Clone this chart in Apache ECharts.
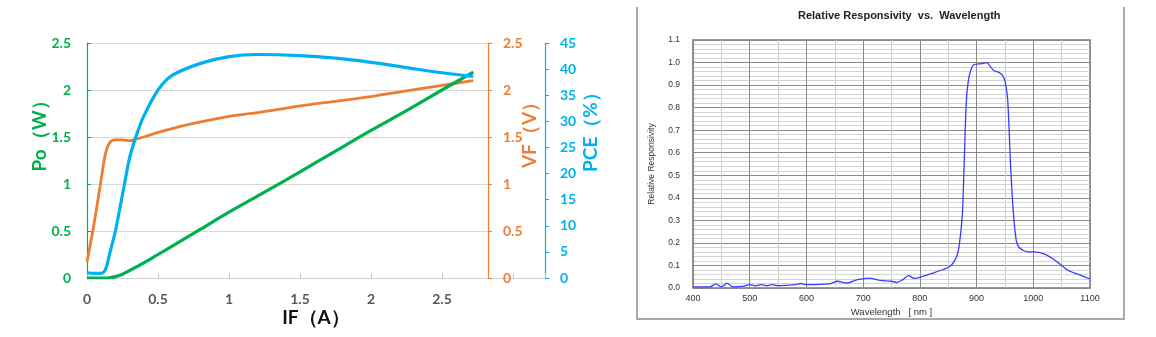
<!DOCTYPE html>
<html>
<head>
<meta charset="utf-8">
<script src="https://cdn.jsdelivr.net/npm/echarts@6/dist/echarts.min.js"></script>
<style>
  html, body { margin: 0; padding: 0; background: #fff; }
  #wrap { position: relative; width: 1156px; height: 337px; overflow: hidden; }
  #left { position: absolute; left: 0; top: 0; width: 630px; height: 337px; }
  #right { position: absolute; left: 630px; top: 0; width: 526px; height: 337px; filter: blur(0.45px); }
  #frame { position: absolute; left: 636px; top: 7px; width: 485px; height: 311px;
           border-left: 2px solid #a8a8a8; border-right: 2px solid #a8a8a8; border-bottom: 2px solid #a8a8a8;
           pointer-events: none; }
</style>
</head>
<body>
<div id="wrap">
  <div id="left"></div>
  <div id="right"></div>
  <div id="frame"></div>
</div>
<script>
// Forward current IF (A), shared by the three curves
const ifCurrent = [0, 0.05, 0.1, 0.13, 0.16, 0.2, 0.25, 0.3, 0.35, 0.4, 0.5, 0.6, 0.8, 1.0, 1.2, 1.5, 1.75, 2.0, 2.25, 2.5, 2.72];
// Optical output power Po (W)
const poValues = [0, 0, 0, 0, 0.003, 0.015, 0.04, 0.08, 0.12, 0.16, 0.25, 0.34, 0.52, 0.7, 0.87, 1.13, 1.35, 1.57, 1.78, 2.0, 2.19];
// Forward voltage VF (V)
const vfValues = [0.17, 0.58, 1.05, 1.32, 1.44, 1.47, 1.47, 1.46, 1.48, 1.5, 1.55, 1.59, 1.66, 1.72, 1.76, 1.83, 1.88, 1.93, 1.99, 2.05, 2.1];
// Power conversion efficiency PCE (%)
const pceValues = [1, 0.9, 0.9, 1.6, 4.7, 9, 16, 23, 27.5, 31, 36, 38.8, 41.1, 42.4, 42.8, 42.6, 42.1, 41.3, 40.3, 39.3, 38.6];

// Spectral response: wavelength (nm) and relative responsivity
const wavelength = [400, 430, 440, 450, 460, 470, 490, 500, 510, 520, 530, 540, 550, 580, 590, 600, 640, 655, 670, 690, 710, 730, 750, 760, 770, 780, 790, 800, 820, 840, 855, 865, 870, 875, 878, 882, 887, 895, 910, 918, 925, 930, 940, 945, 950, 955, 960, 965, 970, 975, 990, 1000, 1020, 1040, 1060, 1080, 1100];
const responsivity = [0.005, 0.005, 0.018, 0.005, 0.022, 0.005, 0.008, 0.015, 0.01, 0.015, 0.01, 0.015, 0.01, 0.015, 0.02, 0.015, 0.018, 0.03, 0.022, 0.037, 0.044, 0.034, 0.03, 0.025, 0.037, 0.055, 0.043, 0.047, 0.064, 0.081, 0.1, 0.14, 0.2, 0.33, 0.54, 0.83, 0.94, 0.99, 0.995, 1.0, 0.98, 0.965, 0.955, 0.945, 0.92, 0.83, 0.54, 0.33, 0.21, 0.18, 0.16, 0.16, 0.15, 0.12, 0.08, 0.06, 0.04];

const GREEN = '#00B050', ORANGE = '#ED7D31', BLUE = '#00B0F0';
const pairs = (xs, ys) => xs.map((x, i) => [x, ys[i]]);
const boldLabel = (color) => ({ color: color, fontFamily: 'Lato', fontWeight: 'bold', fontSize: 14 });

const left = echarts.init(document.getElementById('left'), null, { renderer: 'canvas' });
left.setOption({
  animation: false,
  grid: [
    { left: 87, top: 43, width: 401, height: 235 },
    { left: 87, top: 43, width: 458, height: 235 }
  ],
  xAxis: [
    {
      gridIndex: 0, type: 'value', min: 0, max: 401 / 142, interval: 0.5,
      axisLine: { show: false }, axisTick: { show: false }, splitLine: { show: false },
      axisLabel: Object.assign(boldLabel('#595959'), { margin: 14, showMaxLabel: false })
    },
    {
      gridIndex: 1, type: 'value', min: 0, max: 458 / 142, interval: 0.5,
      axisLine: { lineStyle: { color: '#d0d0d0', width: 1.2 } },
      axisTick: { inside: true, length: 5, lineStyle: { color: '#c4c4c4' } },
      axisLabel: { show: false }, splitLine: { show: false },
      name: 'IF（A）', nameLocation: 'middle', nameGap: 30, nameMoveOverlap: false,
      nameTextStyle: { color: '#111', fontFamily: 'Lato', fontWeight: 'bold', fontSize: 19 }
    }
  ],
  yAxis: [
    {
      gridIndex: 0, type: 'value', position: 'left', min: 0, max: 2.5, interval: 0.5,
      axisLine: { show: true, lineStyle: { color: GREEN, width: 1.2 } },
      axisTick: { show: true, inside: true, length: 4, lineStyle: { color: GREEN } },
      axisLabel: Object.assign(boldLabel(GREEN), { margin: 16 }),
      splitLine: { lineStyle: { color: '#d9d9d9', width: 1.2 } },
      name: 'Po（W）', nameLocation: 'middle', nameGap: 38, nameRotate: 90, nameMoveOverlap: false,
      nameTextStyle: { color: GREEN, fontFamily: 'Lato', fontWeight: 'bold', fontSize: 19, padding: [0, 0, 0, 58] }
    },
    {
      gridIndex: 0, type: 'value', position: 'right', offset: 0, min: 0, max: 2.5, interval: 0.5,
      axisLine: { show: true, lineStyle: { color: ORANGE, width: 1.2 } },
      axisTick: { show: true, length: 4, lineStyle: { color: ORANGE } },
      axisLabel: Object.assign(boldLabel(ORANGE), { margin: 15 }),
      splitLine: { show: false },
      name: 'VF（V）', nameLocation: 'middle', nameGap: 32, nameRotate: 90, nameMoveOverlap: false,
      nameTextStyle: { color: ORANGE, fontFamily: 'Lato', fontWeight: 'bold', fontSize: 19, padding: [0, 0, 0, 60] }
    },
    {
      gridIndex: 0, type: 'value', position: 'right', offset: 57, min: 0, max: 45, interval: 5,
      axisLine: { show: true, lineStyle: { color: BLUE, width: 1.2 } },
      axisTick: { show: true, length: 4, lineStyle: { color: BLUE } },
      axisLabel: Object.assign(boldLabel(BLUE), { margin: 15 }),
      splitLine: { show: false },
      name: 'PCE（%）', nameLocation: 'middle', nameGap: 36, nameRotate: 90, nameMoveOverlap: false,
      nameTextStyle: { color: BLUE, fontFamily: 'Lato', fontWeight: 'bold', fontSize: 19, padding: [0, 0, 0, 66] }
    },
    { gridIndex: 1, type: 'value', min: 0, max: 1, show: false }
  ],
  series: [
    { name: 'Po', type: 'line', xAxisIndex: 0, yAxisIndex: 0, data: pairs(ifCurrent, poValues),
      smooth: 0.3, showSymbol: false, lineStyle: { color: GREEN, width: 3.2 }, z: 3 },
    { name: 'VF', type: 'line', xAxisIndex: 0, yAxisIndex: 1, data: pairs(ifCurrent, vfValues),
      smooth: 0.3, showSymbol: false, lineStyle: { color: ORANGE, width: 2.8 }, z: 2 },
    { name: 'PCE', type: 'line', xAxisIndex: 0, yAxisIndex: 2, data: pairs(ifCurrent, pceValues),
      smooth: 0.3, showSymbol: false, lineStyle: { color: BLUE, width: 3.2 }, z: 4 }
  ]
});

const small = { color: '#333', fontFamily: 'Liberation Sans', fontSize: 9 };
const right = echarts.init(document.getElementById('right'), null, { renderer: 'canvas' });
right.setOption({
  animation: false,
  title: {
    text: 'Relative Responsivity  vs.  Wavelength', left: 168, top: 10, padding: 0,
    textStyle: { color: '#222', fontFamily: 'Liberation Sans', fontWeight: 'bold', fontSize: 11 }
  },
  grid: { left: 63, top: 40, width: 397, height: 248, show: true, borderColor: '#777', borderWidth: 1.6, backgroundColor: 'transparent' },
  xAxis: {
    type: 'value', min: 400, max: 1100, interval: 100,
    axisLine: { show: false }, axisTick: { show: false },
    axisLabel: Object.assign({}, small, { margin: 6, formatter: v => String(v) }),
    splitLine: { lineStyle: { color: '#8a8a8a', width: 1 } },
    minorTick: { show: false, splitNumber: 2 },
    minorSplitLine: { show: true, lineStyle: { color: '#cfcfcf', width: 1 } },
    name: 'Wavelength   [ nm ]', nameLocation: 'middle', nameGap: 19, nameMoveOverlap: false,
    nameTextStyle: Object.assign({}, small, { fontSize: 9.5 })
  },
  yAxis: {
    type: 'value', min: 0, max: 1.1, interval: 0.1,
    axisLine: { show: false }, axisTick: { show: false },
    axisLabel: Object.assign({}, small, { fontSize: 8.5, margin: 13, formatter: v => v.toFixed(1) }),
    splitLine: { lineStyle: { color: '#8a8a8a', width: 1 } },
    minorTick: { show: false, splitNumber: 5 },
    minorSplitLine: { show: true, lineStyle: { color: '#d4d4d4', width: 1 } },
    name: 'Relative Responsivity', nameLocation: 'middle', nameGap: 37, nameRotate: 90, nameMoveOverlap: false,
    nameTextStyle: Object.assign({}, small, { fontSize: 8.5 })
  },
  series: [
    { type: 'line', data: pairs(wavelength, responsivity), smooth: 0.25, showSymbol: false,
      lineStyle: { color: '#3b3bff', width: 1.3 } }
  ]
});
</script>
</body>
</html>
